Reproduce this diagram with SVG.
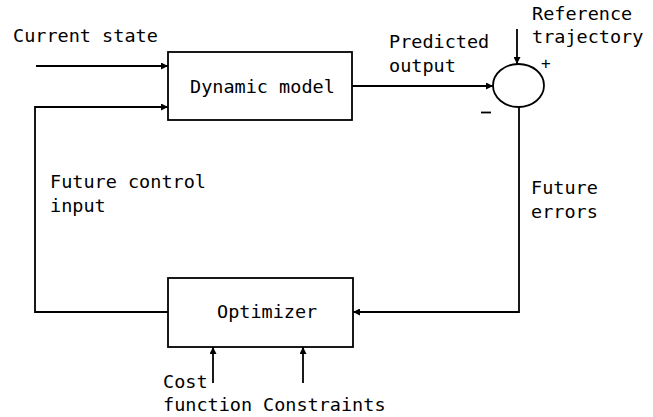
<svg xmlns="http://www.w3.org/2000/svg" width="653" height="417" viewBox="0 0 653 417">
<defs>
<style>
.box{fill:#fff;stroke:#000;stroke-width:1.8}
.ln{fill:none;stroke:#000;stroke-width:1.8}
text{font-family:"DejaVu Sans Mono","Liberation Mono",monospace;font-size:18.5px;fill:#000}
</style>
<marker id="ah" viewBox="0 0 10 10" refX="10" refY="5" markerWidth="7" markerHeight="7" markerUnits="userSpaceOnUse" orient="auto">
<path d="M0,0 L10,5 L0,10 z" fill="#000"/>
</marker>
</defs>
<rect width="653" height="417" fill="#fff"/>
<g id="connectors">
<path class="ln" d="M36,66 H168" marker-end="url(#ah)"/>
<path class="ln" d="M168,312 H35 V107 H168" marker-end="url(#ah)"/>
<path class="ln" d="M352,86 H493" marker-end="url(#ah)"/>
<path class="ln" d="M517,29 V64" marker-end="url(#ah)"/>
<path class="ln" d="M519,107 V312 H353" marker-end="url(#ah)"/>
<path class="ln" d="M213,383 V347" marker-end="url(#ah)"/>
<path class="ln" d="M303,383 V347" marker-end="url(#ah)"/>
</g>
<g id="dynamic-model">
<rect class="box" x="168" y="52" width="184" height="68"/>
<text x="190" y="93">Dynamic model</text>
</g>
<g id="optimizer">
<rect class="box" x="168" y="278" width="185" height="69"/>
<text x="217" y="318">Optimizer</text>
</g>
<g id="summing-junction">
<ellipse class="box" cx="518.5" cy="85.5" rx="25.5" ry="21.5"/>
<text x="541" y="69" style="font-size:16px">+</text>
<path class="ln" d="M481,112.5 H491"/>
</g>
<g id="labels">
<text x="13" y="42">Current state</text>
<text x="389" y="48">Predicted</text>
<text x="389" y="72">output</text>
<text x="532" y="20">Reference</text>
<text x="532" y="43">trajectory</text>
<text x="50" y="188">Future control</text>
<text x="50" y="212">input</text>
<text x="531" y="194">Future</text>
<text x="531" y="218">errors</text>
<text x="163" y="388">Cost</text>
<text x="163" y="411">function</text>
<text x="263" y="411">Constraints</text>
</g>
</svg>
